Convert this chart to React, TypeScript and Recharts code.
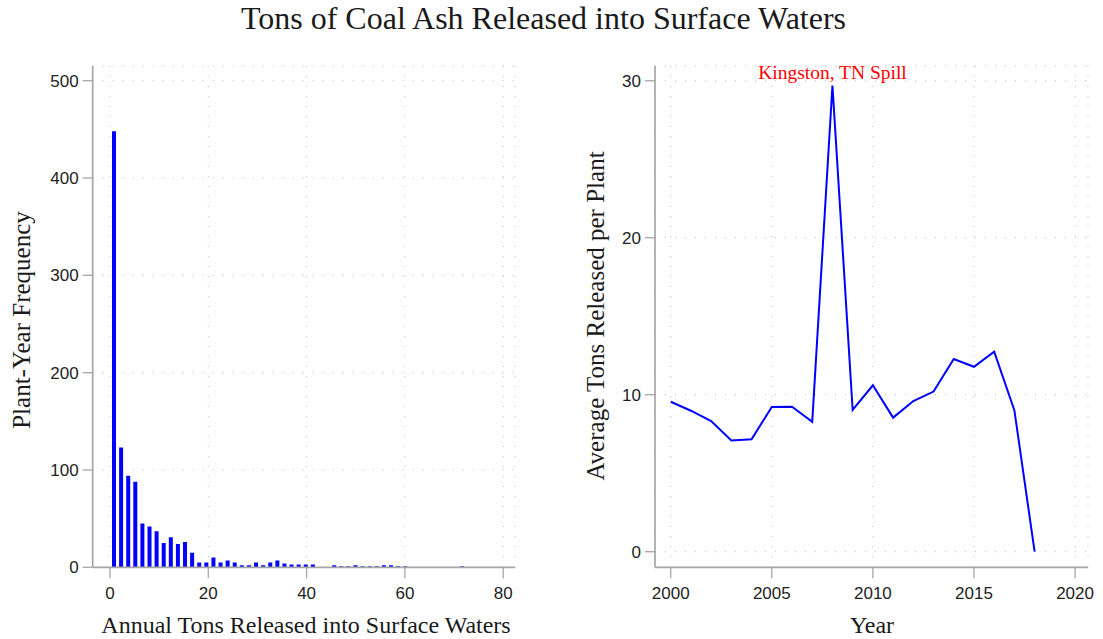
import {
  BarChart,
  Bar,
  LineChart,
  Line,
  XAxis,
  YAxis,
  CartesianGrid,
  ReferenceDot,
} from "recharts";

const SERIF = '"Liberation Serif", "Times New Roman", serif';
const SANS = '"Liberation Sans", Arial, sans-serif';

// histogram: 50 bins, each ~1.445 tons wide, first bin starts at 0
const binWidth = 1.445;
const binCounts = [
  448, 123, 94, 88, 45, 42, 37, 25, 31, 24, 26, 15, 5, 5, 10, 5, 7, 5, 2, 2,
  5, 2, 5, 7, 4, 3, 3, 3, 3, 0, 0, 2, 1, 1, 2, 1, 1, 1, 2, 2,
  1, 1, 0, 0, 0, 0, 0, 0, 0, 1,
];
const freqTicks = [0, 100, 200, 300, 400, 500];
const tonsTicks = [0, 20, 40, 60, 80];

// yearly average
const years = [
  2000, 2001, 2002, 2003, 2004, 2005, 2006, 2007, 2008, 2009, 2010, 2011,
  2012, 2013, 2014, 2015, 2016, 2017, 2018,
];
const avgTons = [
  9.55, 8.98, 8.32, 7.09, 7.16, 9.22, 9.24, 8.28, 29.7, 9.03, 10.6, 8.54,
  9.6, 10.2, 12.27, 11.78, 12.74, 9.0, 0,
];
const yearTicks = [2000, 2005, 2010, 2015, 2020];
const avgTicks = [0, 10, 20, 30];
const spillYear = 2008;
const spillLabel = "Kingston, TN Spill";

const histData = binCounts.map((count, i) => ({
  tons: (i + 0.5) * binWidth,
  count,
}));
const lineData = years.map((year, i) => ({ year, avg: avgTons[i] }));
const spillValue = avgTons[years.indexOf(spillYear)];

const AXIS = "#a6a6a6";
const GRID = "#bdbdbd";
const tickStyle = { fill: "#222", fontFamily: SANS, fontSize: 17 };

type TitleProps = {
  tx: number;
  ty: number;
  text: string;
  size: number;
  vertical?: boolean;
};

const AxisTitle = ({ tx, ty, text, size, vertical }: TitleProps) => (
  <text
    x={tx}
    y={ty}
    textAnchor="middle"
    fill="#1a1a1a"
    fontFamily={SERIF}
    fontSize={size}
    transform={vertical ? `rotate(-90 ${tx} ${ty})` : undefined}
  >
    {text}
  </text>
);

const App = () => {
  return (
    <div
      style={{
        position: "absolute",
        left: 0,
        top: 0,
        width: 1103,
        height: 639,
        background: "#fff",
      }}
    >
      <div
        style={{
          position: "absolute",
          left: 0,
          top: 0,
          width: 1087,
          textAlign: "center",
          fontFamily: SERIF,
          fontSize: 32,
          lineHeight: "36px",
          color: "#1a1a1a",
        }}
      >
        Tons of Coal Ash Released into Surface Waters
      </div>

      <div style={{ position: "absolute", left: 0, top: 0 }}>
        <BarChart
          width={540}
          height={639}
          data={histData}
          margin={{ top: 66, right: 25, bottom: 70.7, left: 91.7 }}
        >
          <CartesianGrid stroke={GRID} strokeDasharray="1 9" />
          <XAxis
            dataKey="tons"
            type="number"
            domain={[-3.52, 82.4]}
            allowDataOverflow
            ticks={tonsTicks}
            height={1}
            tickSize={11}
            tickMargin={9}
            tick={tickStyle}
            axisLine={{ stroke: AXIS, strokeWidth: 1.7 }}
            tickLine={{ stroke: AXIS, strokeWidth: 1.3 }}
            label={
              <AxisTitle
                tx={306}
                ty={633}
                size={24}
                text="Annual Tons Released into Surface Waters"
              />
            }
          />
          <YAxis
            type="number"
            domain={[0, 515.1]}
            allowDataOverflow
            ticks={freqTicks}
            width={1}
            tickSize={10}
            tickMargin={4}
            tick={tickStyle}
            axisLine={{ stroke: AXIS, strokeWidth: 1.7 }}
            tickLine={{ stroke: AXIS, strokeWidth: 1.3 }}
            label={
              <AxisTitle
                tx={30}
                ty={320}
                size={25}
                vertical
                text="Plant-Year Frequency"
              />
            }
          />
          <Bar
            dataKey="count"
            fill="#0000ff"
            barSize={4}
            isAnimationActive={false}
          />
        </BarChart>
      </div>

      <div style={{ position: "absolute", left: 560, top: 0 }}>
        <LineChart
          width={543}
          height={639}
          data={lineData}
          margin={{ top: 66, right: 15, bottom: 70.7, left: 94 }}
        >
          <CartesianGrid stroke={GRID} strokeDasharray="1 9" />
          <XAxis
            dataKey="year"
            type="number"
            domain={[1999.223, 2020.64]}
            allowDataOverflow
            ticks={yearTicks}
            height={1}
            tickSize={11}
            tickMargin={9}
            tick={tickStyle}
            axisLine={{ stroke: AXIS, strokeWidth: 1.7 }}
            tickLine={{ stroke: AXIS, strokeWidth: 1.3 }}
            label={<AxisTitle tx={312} ty={633} size={24} text="Year" />}
          />
          <YAxis
            type="number"
            domain={[-0.994, 30.94]}
            allowDataOverflow
            ticks={avgTicks}
            width={1}
            tickSize={10}
            tickMargin={4}
            tick={tickStyle}
            axisLine={{ stroke: AXIS, strokeWidth: 1.7 }}
            tickLine={{ stroke: AXIS, strokeWidth: 1.3 }}
            label={
              <AxisTitle
                tx={44}
                ty={316}
                size={25}
                vertical
                text="Average Tons Released per Plant"
              />
            }
          />
          <Line
            type="linear"
            dataKey="avg"
            stroke="#0000ff"
            strokeWidth={2}
            dot={false}
            isAnimationActive={false}
          />
          <ReferenceDot
            x={spillYear}
            y={spillValue}
            r={0}
            stroke="none"
            label={{
              value: spillLabel,
              position: "top",
              offset: 6,
              fill: "#ff0000",
              fontSize: 19.5,
              fontFamily: SERIF,
            }}
          />
        </LineChart>
      </div>
    </div>
  );
};

export default App;
